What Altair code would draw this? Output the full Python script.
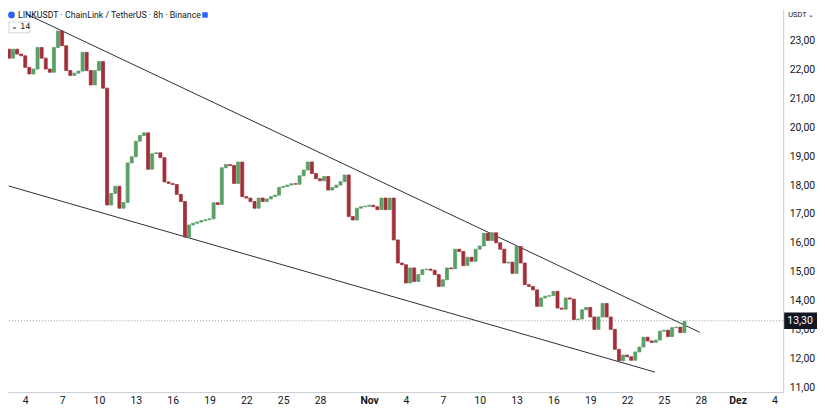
import altair as alt
import pandas as pd

# ---------------- data ----------------
START = "2025-10-02T16:00:00"          # first 8h candle
FIRST_OPEN = 22.71
CLOSES = [
    22.40, 22.71, 22.54, 22.48, 22.08, 21.85, 22.02, 22.77, 22.40, 22.02,
    21.91, 22.77, 23.34, 22.83, 21.97, 21.80, 21.88, 21.95, 22.60, 21.97,
    21.47, 21.97, 22.28, 21.36, 17.31, 17.71, 17.96, 17.20, 17.40, 18.77,
    18.98, 19.52, 19.72, 19.81, 18.55, 19.09, 19.12, 18.95, 18.11, 18.06,
    18.02, 17.68, 17.43, 16.20, 16.62, 16.68, 16.72, 16.77, 16.80, 16.83,
    17.39, 17.33, 18.60, 18.71, 18.68, 18.06, 18.80, 17.60, 17.55, 17.43,
    17.20, 17.55, 17.43, 17.52, 17.60, 17.65, 17.92, 17.95, 18.00, 18.05,
    18.03, 18.32, 18.52, 18.80, 18.40, 18.22, 18.15, 18.30, 17.83, 17.92,
    18.00, 18.12, 18.35, 16.91, 16.79, 17.20, 17.25, 17.27, 17.30, 17.25,
    17.15, 17.55, 17.15, 17.55, 16.10, 15.30, 15.24, 14.61, 15.13, 14.66,
    14.90, 15.07, 15.09, 15.05, 14.90, 14.49, 14.72, 15.13, 15.10, 15.78,
    15.70, 15.21, 15.50, 15.36, 15.78, 15.89, 16.33, 16.08, 16.35, 16.00,
    15.78, 15.30, 15.33, 14.94, 15.87, 15.30, 14.55, 14.49, 14.37, 13.80,
    14.09, 14.15, 14.17, 14.32, 13.74, 13.70, 14.09, 14.05, 13.34, 13.36,
    13.68, 13.76, 13.43, 13.00, 13.43, 13.90, 13.43, 13.00, 12.31, 11.91,
    12.11, 12.05, 11.93, 12.22, 12.39, 12.73, 12.60, 12.55, 12.63, 12.94,
    12.97, 12.75, 13.06, 13.08, 12.89, 13.28,
]

UPPER_TIMES = ["2025-10-04T02:00:00", "2025-11-27T22:00:00"]
UPPER_VALUES = [23.93, 12.90]
LOWER_TIMES = ["2025-10-02T15:36:00", "2025-11-24T06:30:00"]
LOWER_VALUES = [17.97, 11.52]

LAST_PRICE = 13.30
Y_TICKS = [11, 12, 13, 14, 15, 16, 17, 18, 19, 20, 21, 22, 23]
X_TICK_MONTHS = [10] * 9 + [11] * 10 + [12] * 2
X_TICK_DAYS = [4, 7, 10, 13, 16, 19, 22, 25, 28,
               1, 4, 7, 10, 13, 16, 19, 22, 25, 28,
               1, 4]
TITLE = "LINKUSDT · ChainLink / TetherUS · 8h · Binance"

# ---------------- build tables ----------------
times = pd.date_range(START, periods=len(CLOSES), freq="8h")
opens = [FIRST_OPEN] + CLOSES[:-1]
candles = pd.DataFrame({
    "time": times.strftime("%Y-%m-%dT%H:%M:%S"),
    "open": opens,
    "close": CLOSES,
})
candles["dir"] = ["up" if c >= o else "down" for o, c in zip(opens, CLOSES)]

lines = pd.DataFrame({
    "line": ["upper", "upper", "lower", "lower"],
    "time": UPPER_TIMES + LOWER_TIMES,
    "value": UPPER_VALUES + LOWER_VALUES,
})

W, H = 779, 385
GREEN, RED = "#5b9f67", "#a1303b"
FONT = "Roboto"

x_scale = alt.Scale(domain=[alt.DateTime(year=2025, month=10, date=3),
                            alt.DateTime(year=2025, month=12, date=4, hours=7, minutes=12)])
y_scale = alt.Scale(domain=[10.828, 24.103], nice=False, zero=False)

x_axis = alt.Axis(
    values=[alt.DateTime(year=2025, month=m, date=d) for m, d in zip(X_TICK_MONTHS, X_TICK_DAYS)],
    labelExpr="date(datum.value) == 1 ? (month(datum.value) == 10 ? 'Nov' : 'Dez') : '' + date(datum.value)",
    labelFontWeight={"condition": {"test": "date(datum.value) == 1", "value": "bold"}, "value": "normal"},
    title=None, grid=False, ticks=False, domainColor="#c9ccd3", labelPadding=3,
    labelFontSize=10.5, labelColor="#131722", labelFont=FONT, labelOverlap=False,
)
y_axis = alt.Axis(
    orient="right", values=Y_TICKS,
    labelExpr="replace(format(datum.value, '.2f'), '.', ',')",
    title=None, grid=False, ticks=False, domainColor="#c9ccd3", labelPadding=6,
    labelFontSize=10.5, labelColor="#131722", labelFont=FONT, labelOverlap=False,
)

base_x = alt.X("time:T", scale=x_scale, axis=x_axis)

price_line = alt.Chart(pd.DataFrame({"p": [LAST_PRICE]})).mark_rule(
    color="#9aa0a8", strokeDash=[1, 2], strokeWidth=1
).encode(y=alt.Y("p:Q", scale=y_scale, axis=y_axis))

trend = alt.Chart(lines).mark_line(color="#2a2e39", strokeWidth=1, clip=True).encode(
    x=base_x, y=alt.Y("value:Q", scale=y_scale, axis=y_axis), detail="line:N"
)

bars = alt.Chart(candles).mark_bar(size=3.0, strokeWidth=0.8, clip=True).encode(
    x=base_x,
    y=alt.Y("open:Q", scale=y_scale, axis=y_axis),
    y2="close:Q",
    color=alt.Color("dir:N", scale=alt.Scale(domain=["up", "down"], range=[GREEN, RED]), legend=None),
    stroke=alt.Stroke("dir:N", scale=alt.Scale(domain=["up", "down"], range=[GREEN, RED]), legend=None),
)

one = pd.DataFrame({"t": [TITLE]})
title = alt.Chart(one).mark_text(align="left", baseline="middle", fontSize=8.8,
                                 font=FONT, color="#131722").encode(
    x=alt.value(10), y=alt.value(6), text="t:N")
logo = alt.Chart(one).mark_point(shape="circle", filled=True, size=45, color="#2962ff", opacity=1).encode(
    x=alt.value(3.5), y=alt.value(6))
flag = alt.Chart(one).mark_point(shape="square", filled=True, size=30, color="#2962ff", opacity=1).encode(
    x=alt.value(198), y=alt.value(6))

ind_box = alt.Chart(one).mark_rect(fill="white", stroke="#d1d4dc", strokeWidth=1).encode(
    x=alt.value(1), x2=alt.value(22), y=alt.value(13), y2=alt.value(24))
ind_txt = alt.Chart(pd.DataFrame({"t": ["⌄ 14"]})).mark_text(
    align="left", baseline="middle", fontSize=8, font="DejaVu Sans", color="#131722").encode(
    x=alt.value(3), y=alt.value(18.5), text="t:N")

usdt = alt.Chart(pd.DataFrame({"t": ["USDT ⌄"]})).mark_text(
    align="left", baseline="middle", fontSize=7.5, font=FONT, color="#131722").encode(
    x=alt.value(W + 5), y=alt.value(6), text="t:N")

pbox = alt.Chart(pd.DataFrame({"a": [LAST_PRICE + 0.29], "b": [LAST_PRICE - 0.29]})).mark_rect(
    fill="#131722").encode(
    x=alt.value(W + 1), x2=alt.value(W + 34),
    y=alt.Y("a:Q", scale=y_scale, axis=y_axis), y2="b:Q")
ptxt = alt.Chart(pd.DataFrame({"p": [LAST_PRICE]})).transform_calculate(
    lbl="replace(format(datum.p, '.2f'), '.', ',')"
).mark_text(align="center", baseline="middle", fontSize=10.5, font=FONT, color="white").encode(
    x=alt.value(W + 17), y=alt.Y("p:Q", scale=y_scale, axis=y_axis), text="lbl:N")

chart = alt.layer(
    price_line, trend, bars, ind_box, ind_txt, title, logo, flag, usdt, pbox, ptxt
).properties(
    width=W, height=H,
    autosize=alt.AutoSizeParams(type="none"),
    padding={"left": 0, "top": 0, "right": 34, "bottom": 13},
    background="white",
).configure_view(stroke=None)

chart.save("out.html", embed_options={"renderer": "svg", "actions": False})
